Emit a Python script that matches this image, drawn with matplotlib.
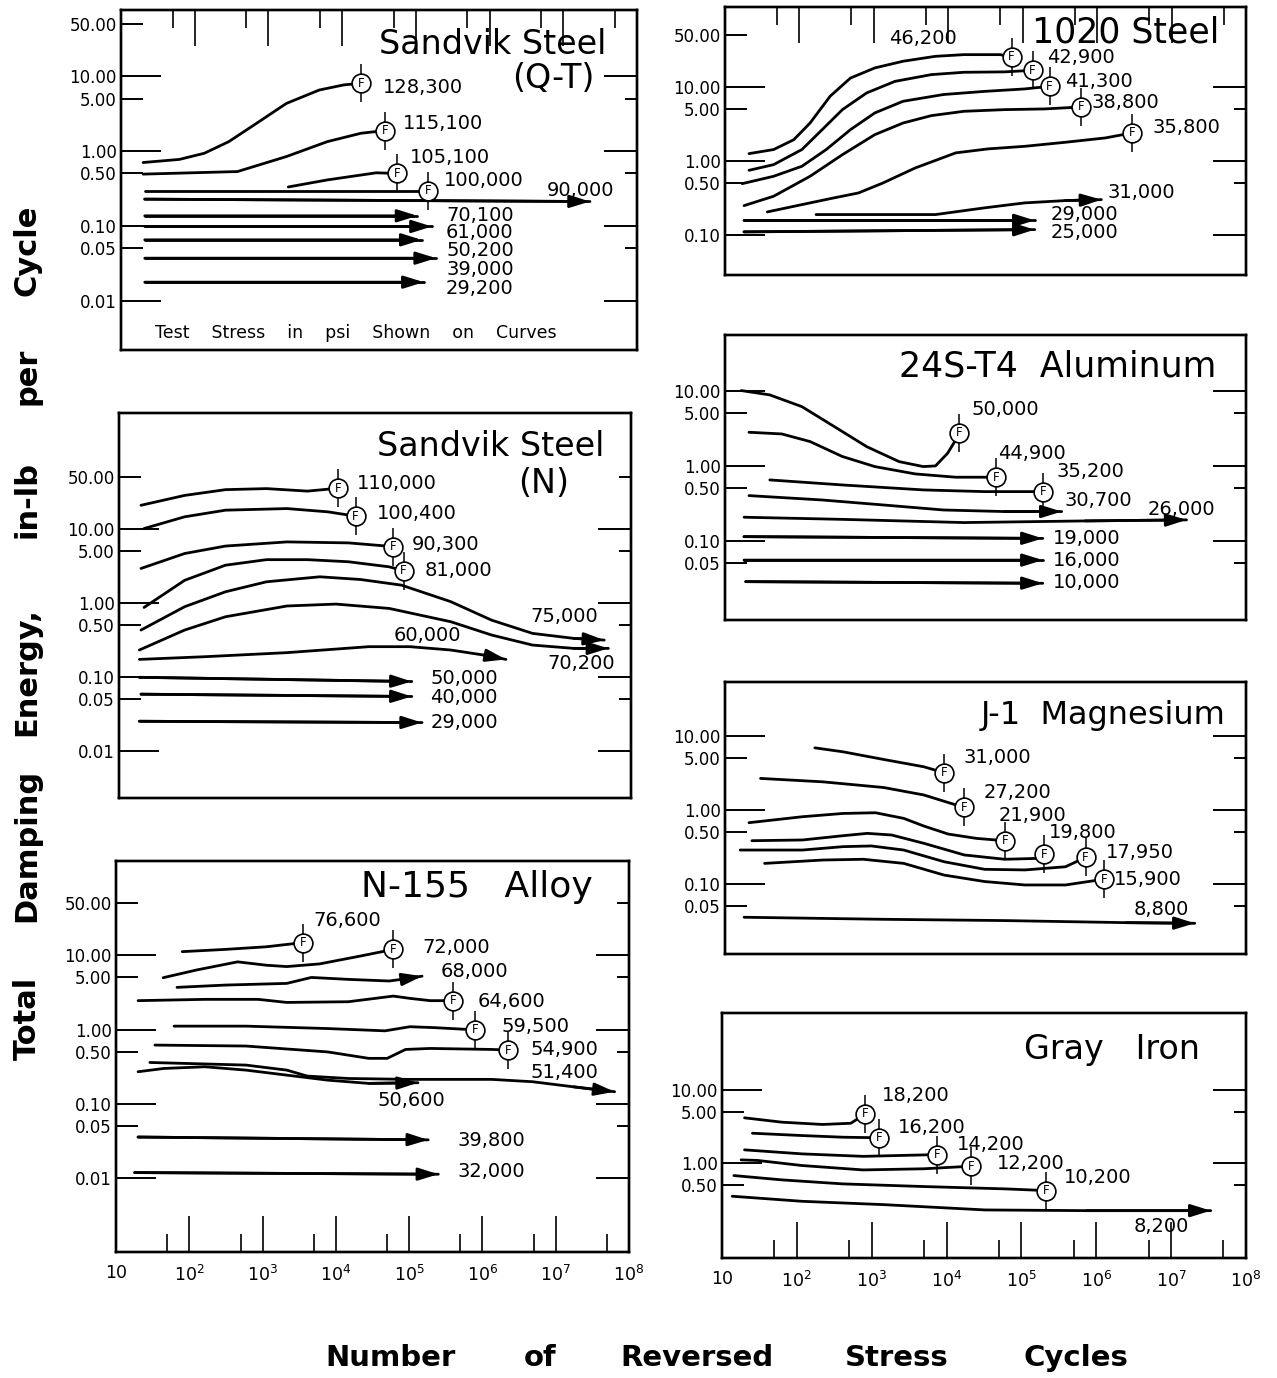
import matplotlib
matplotlib.use("Agg")
import matplotlib.pyplot as plt
from matplotlib.ticker import NullFormatter

# ---------------- data ----------------
# Sandvik Steel (Q-T)
qt_stress = ["128,300", "115,100", "105,100", "100,000", "90,000",
             "70,100", "61,000", "50,200", "39,000", "29,200"]
qt_x = [[20, 62, 135, 290, 630, 1750, 4900, 10500, 18000],
        [20, 380, 1750, 6300, 18000, 38000],
        [1860, 6300, 29000, 56000],
        [21, 146000],
        [21, 23e6],
        [21, 105000],
        [21, 165000],
        [21, 120000],
        [21, 188000],
        [21, 128000]]
qt_y = [[0.70, 0.77, 0.93, 1.33, 2.2, 4.3, 6.5, 7.6, 8.0],
        [0.49, 0.53, 0.84, 1.33, 1.72, 1.87],
        [0.33, 0.41, 0.51, 0.50],
        [0.296, 0.296],
        [0.227, 0.211],
        [0.136, 0.136],
        [0.098, 0.098],
        [0.065, 0.065],
        [0.037, 0.037],
        [0.0177, 0.0177]]
qt_end = ["F", "F", "F", "F", ">", ">", ">", ">", ">", ">"]

# Sandvik Steel (N)
sn_stress = ["110,000", "100,400", "90,300", "81,000", "75,000",
             "70,200", "60,000", "50,000", "40,000", "29,000"]
sn_x = [[20, 79, 286, 1040, 3770, 9900],
        [22, 79, 286, 1980, 7180, 17200],
        [20, 79, 286, 1980, 13700, 56400],
        [22, 79, 286, 1040, 3770, 13700, 49500, 78000],
        [20, 79, 286, 1040, 5550, 20100, 72900, 343000, 1.24e6, 4.5e6, 16.4e6, 43e6],
        [19, 79, 286, 1980, 9270, 49500, 343000, 1.24e6, 4.5e6, 16.4e6, 49e6],
        [19, 150, 1980, 26000, 94600, 343000, 961000, 1.95e6],
        [19, 100700],
        [20, 100700],
        [19, 139000]]
sn_y = [[20.6, 28, 33.5, 34.6, 32, 35],
        [10, 14.4, 17.7, 18.6, 16.8, 14.7],
        [2.89, 4.6, 5.8, 6.6, 6.4, 5.7],
        [0.86, 2.0, 3.2, 3.8, 3.8, 3.56, 3.04, 2.69],
        [0.426, 0.88, 1.4, 1.91, 2.23, 2.05, 1.72, 1.03, 0.58, 0.384, 0.329, 0.312],
        [0.229, 0.426, 0.644, 0.90, 0.955, 0.834, 0.552, 0.365, 0.267, 0.241, 0.241],
        [0.171, 0.186, 0.211, 0.254, 0.254, 0.229, 0.196, 0.171],
        [0.098, 0.086],
        [0.058, 0.054],
        [0.025, 0.024]]
sn_end = ["F", "F", "F", "F", ">", ">", ">", ">", ">", ">"]

# N-155 Alloy
na_stress = ["76,600", "72,000", "68,000", "64,600", "59,500",
             "54,900", "51,400", "50,600", "39,800", "32,000"]
na_x = [[80, 310, 1120, 3600],
        [44, 126, 457, 1120, 2140, 6000, 21700, 60800],
        [68, 310, 2140, 4630, 14800, 53500, 78700, 150000],
        [20, 163, 870, 2140, 14800, 60800, 102000, 194000, 393000],
        [62, 592, 7760, 47000, 102000, 220000, 542000, 798000],
        [34, 592, 7760, 28100, 50100, 89500, 194000, 1.34e6, 2.23e6],
        [29, 592, 2140, 4070, 14800, 102000, 1.34e6, 4.84e6, 17.5e6, 63.6e6],
        [20, 45, 163, 592, 2140, 7760, 28100, 132000],
        [20, 182000],
        [18, 250000]]
na_y = [[11.1, 11.9, 12.9, 14.7],
        [4.96, 6.3, 8.1, 7.3, 7.0, 7.6, 9.7, 11.9],
        [3.68, 3.95, 4.16, 5.0, 4.71, 4.48, 4.71, 5.2],
        [2.44, 2.54, 2.54, 2.31, 2.36, 2.81, 2.62, 2.44, 2.44],
        [1.11, 1.11, 1.03, 0.96, 1.09, 1.06, 1.01, 1.0],
        [0.618, 0.60, 0.50, 0.41, 0.41, 0.54, 0.557, 0.54, 0.53],
        [0.361, 0.333, 0.285, 0.237, 0.22, 0.214, 0.214, 0.199, 0.17, 0.146],
        [0.271, 0.30, 0.316, 0.285, 0.244, 0.209, 0.189, 0.193],
        [0.036, 0.033],
        [0.012, 0.0114]]
na_end = ["F", "F", ">", "F", "F", "F", ">", ">", ">", ">"]

# 1020 Steel
st_stress = ["46,200", "42,900", "41,300", "38,800", "35,800",
             "31,000", "29,000", "25,000"]
st_x = [[21, 45, 84, 139, 259, 485, 1030, 2470, 6730, 16200, 49900, 70800],
        [21, 45, 108, 202, 378, 800, 1920, 5930, 16200, 56500, 136000],
        [17, 45, 108, 229, 485, 1030, 2470, 8630, 30200, 106000, 230000],
        [18, 45, 139, 378, 1030, 2470, 5930, 16200, 56500, 198000, 610000],
        [37, 108, 259, 622, 1320, 3600, 12600, 34300, 106000, 370000, 1.29e6, 2.92e6],
        [167, 6730, 30200, 106000, 370000, 1.14e6],
        [18, 145000],
        [18, 145000]]
st_y = [[1.25, 1.42, 1.93, 3.25, 7.5, 13.2, 18.1, 22.3, 26, 27.4, 27.4, 25.5],
        [0.743, 0.887, 1.42, 2.64, 4.93, 8.3, 11.9, 14.7, 15.8, 16, 16.8],
        [0.49, 0.617, 0.843, 1.42, 2.64, 4.45, 6.4, 7.9, 8.7, 9.4, 10.2],
        [0.247, 0.331, 0.617, 1.21, 2.26, 3.25, 4.09, 4.68, 4.93, 5.04, 5.36],
        [0.203, 0.255, 0.307, 0.367, 0.5, 0.8, 1.28, 1.45, 1.57, 1.78, 2.04, 2.38],
        [0.187, 0.187, 0.23, 0.269, 0.289, 0.298],
        [0.156, 0.156],
        [0.109, 0.117]]
st_end = ["F", "F", "F", "F", "F", ">", ">", ">"]

# 24S-T4 Aluminum
al_stress = ["50,000", "44,900", "35,200", "30,700", "26,000",
             "19,000", "16,000", "10,000"]
al_x = [[16.5, 40, 108, 294, 800, 2180, 4610, 6730, 9790, 12600, 13900],
        [21, 58, 139, 378, 1030, 3600, 12600, 44000],
        [40, 378, 4610, 30200, 186000],
        [21, 202, 1320, 8630, 56500, 334000],
        [18, 378, 16200, 692000, 15.9e6],
        [18, 186000],
        [18, 186000],
        [19, 186000]]
al_y = [[10, 8.75, 6.1, 3.31, 1.79, 1.13, 0.97, 0.99, 1.46, 2.2, 2.75],
        [2.78, 2.64, 2.09, 1.32, 0.97, 0.774, 0.70, 0.70],
        [0.644, 0.552, 0.474, 0.45, 0.45],
        [0.398, 0.348, 0.299, 0.256, 0.244, 0.244],
        [0.205, 0.192, 0.174, 0.183, 0.189],
        [0.113, 0.107],
        [0.055, 0.055],
        [0.0284, 0.027]]
al_end = ["F", "F", "F", ">", ">", ">", ">", ">"]

# J-1 Magnesium
mg_stress = ["31,000", "27,200", "21,900", "19,800", "17,950", "15,900", "8,800"]
mg_x = [[161, 385, 1350, 4700, 8790],
        [30, 206, 1350, 4700, 12800, 16400],
        [21, 110, 385, 1050, 2520, 4700, 9960, 23900, 57400],
        [23, 110, 385, 817, 1730, 4700, 16400, 57400, 156000, 195000],
        [16, 110, 385, 925, 2520, 8790, 30700, 107000, 375000, 700000],
        [34, 206, 721, 2520, 8790, 30700, 107000, 375000, 1.23e6],
        [18, 1350, 57400, 2.44e6, 20.5e6]]
mg_y = [[6.95, 6.14, 4.84, 3.85, 3.2],
        [2.68, 2.41, 2.02, 1.6, 1.17, 1.09],
        [0.675, 0.813, 0.90, 0.92, 0.772, 0.608, 0.474, 0.414, 0.385],
        [0.385, 0.394, 0.45, 0.484, 0.46, 0.355, 0.247, 0.216, 0.222, 0.254],
        [0.288, 0.288, 0.32, 0.327, 0.288, 0.20, 0.158, 0.155, 0.171, 0.229],
        [0.19, 0.211, 0.216, 0.19, 0.132, 0.108, 0.097, 0.097, 0.116],
        [0.0355, 0.0333, 0.032, 0.030, 0.0294]]
mg_end = ["F", "F", "F", "F", "F", "F", ">"]

# Gray Iron
gi_stress = ["18,200", "16,200", "14,200", "12,200", "10,200", "8,200"]
gi_x = [[20, 63, 220, 527, 817],
        [25.5, 117, 410, 1260],
        [20, 117, 767, 7460],
        [18, 30, 117, 767, 5010, 21100],
        [14.4, 63, 410, 5010, 61100, 213000],
        [13.7, 117, 1430, 32700, 745000, 33.8e6]]
gi_y = [[4.15, 3.62, 3.37, 3.5, 4.7],
        [2.56, 2.38, 2.26, 2.22],
        [1.52, 1.34, 1.24, 1.31],
        [1.11, 1.09, 0.93, 0.81, 0.84, 0.91],
        [0.679, 0.593, 0.523, 0.481, 0.447, 0.424],
        [0.355, 0.303, 0.273, 0.231, 0.226, 0.226]]
gi_end = ["F", "F", "F", "F", "F", ">"]

x_ticklabels = ["10", "$10^2$", "$10^3$", "$10^4$", "$10^5$", "$10^6$", "$10^7$", "$10^8$"]
y_ticklabel = {50: "50.00", 10: "10.00", 5: "5.00", 1: "1.00", 0.5: "0.50",
               0.1: "0.10", 0.05: "0.05", 0.01: "0.01"}

# ---------------- layout (pixels in the 1277x1378 picture) ----------------
W, H = 1277, 1378
fig = plt.figure(figsize=(W / 100, H / 100), dpi=100)

# label positions as axes fractions (left edge, vertical centre)
qt_lab = [(0.507, 0.773), (0.547, 0.665), (0.559, 0.567), (0.626, 0.50), (0.825, 0.469),
          (0.63, 0.397), (0.63, 0.345), (0.63, 0.292), (0.63, 0.237), (0.63, 0.181)]
sn_lab = [(0.464, 0.817), (0.504, 0.739), (0.572, 0.659), (0.596, 0.59), (0.804, 0.471),
          (0.836, 0.35), (0.536, 0.421), (0.608, 0.311), (0.608, 0.262), (0.608, 0.196)]
na_lab = [(0.385, 0.849), (0.597, 0.779), (0.633, 0.717), (0.704, 0.64), (0.752, 0.578),
          (0.808, 0.519), (0.808, 0.459), (0.509, 0.388), (0.665, 0.286), (0.665, 0.205)]
st_lab = [(0.315, 0.881), (0.618, 0.81), (0.653, 0.723), (0.703, 0.642), (0.82, 0.549),
          (0.734, 0.308), (0.625, 0.225), (0.625, 0.157)]
al_lab = [(0.474, 0.739), (0.524, 0.585), (0.637, 0.52), (0.651, 0.421), (0.812, 0.386),
          (0.629, 0.287), (0.629, 0.208), (0.629, 0.132)]
mg_lab = [(0.458, 0.722), (0.497, 0.592), (0.525, 0.51), (0.622, 0.447), (0.731, 0.372),
          (0.746, 0.274), (0.785, 0.164)]
gi_lab = [(0.306, 0.663), (0.335, 0.534), (0.448, 0.462), (0.525, 0.384), (0.653, 0.33),
          (0.785, 0.128)]


def make_panel(box, ylim, yleft, yright, xmode):
    x0, y0, x1, y1 = box
    ax = fig.add_axes([x0 / W, 1 - y1 / H, (x1 - x0) / W, (y1 - y0) / H])
    tw = ax.twinx()
    for a in (ax, tw):
        a.set_xscale("log")
        a.set_yscale("log")
        a.set_xlim(10, 1e8)
        a.set_ylim(*ylim)
        for s in a.spines.values():
            s.set_linewidth(1.7)
    maj = [v for v in yleft if v in (10, 1, 0.1, 0.01)]
    mnr = [v for v in yleft if v in (50, 5, 0.5, 0.05)]
    ax.set_yticks(maj, [y_ticklabel[v] for v in maj])
    ax.set_yticks(mnr, [y_ticklabel[v] for v in mnr], minor=True)
    ax.tick_params(axis="y", which="both", direction="in", labelsize=12, width=1.4, pad=3)
    ax.tick_params(axis="y", which="major", length=29)
    ax.tick_params(axis="y", which="minor", length=16)
    tw.set_yticks([v for v in yright if v in (10, 1, 0.1, 0.01)])
    tw.set_yticks([v for v in yright if v in (50, 5, 0.5, 0.05)], minor=True)
    tw.tick_params(axis="y", which="both", direction="in", width=1.4, labelright=False)
    tw.tick_params(axis="y", which="major", length=24)
    tw.tick_params(axis="y", which="minor", length=9)

    if xmode == "none":
        ax.set_xticks([])
        ax.set_xticks([], minor=True)
    else:
        ax.set_xticks([10 ** k for k in range(1, 9)])
        ax.set_xticks([5 * 10 ** k for k in range(1, 8)], minor=True)
        ax.xaxis.set_minor_formatter(NullFormatter())
        ax.tick_params(axis="x", which="both", direction="in", width=1.2)
        ax.tick_params(axis="x", which="major", length=26)
        ax.tick_params(axis="x", which="minor", length=13)
        if xmode == "top":
            ax.tick_params(axis="x", which="both", bottom=False, top=True,
                           labelbottom=False)
        else:
            ax.set_xticklabels(x_ticklabels)
            ax.tick_params(axis="x", which="major", labelsize=12.5, pad=9)
    return ax


def draw_curves(ax, xs, ys, ends, stress, labs):
    for x, y, e, s, (fx, fy) in zip(xs, ys, ends, stress, labs):
        ax.plot(x, y, color="k", lw=2.0, solid_capstyle="round", zorder=3)
        if e == "F":
            ax.plot(x[-1], y[-1], marker="|", ms=27, mew=1.1, color="k", zorder=4)
            ax.plot(x[-1], y[-1], marker="o", ms=13.5, mfc="white", mec="k",
                    mew=1.2, zorder=5)
            ax.text(x[-1], y[-1], "F", fontsize=8.5, ha="center", va="center", zorder=6)
        else:
            ax.annotate("", xy=(x[-1], y[-1]), xytext=(x[-2], y[-2]),
                        arrowprops=dict(arrowstyle="-|>,head_length=0.8,head_width=0.25",
                                        lw=2.0, color="k", shrinkA=0, shrinkB=0,
                                        mutation_scale=15), zorder=4)
        ax.text(fx, fy, s, transform=ax.transAxes, fontsize=14, ha="left", va="center")


def title(ax, text, fx, fy, size=24):
    ax.text(fx, fy, text, transform=ax.transAxes, fontsize=size, ha="right", va="center")


all_y = [50, 10, 5, 1, 0.5, 0.1, 0.05, 0.01]

ax = make_panel((121, 10, 637, 350), (0.0022, 76), all_y, all_y[1:], "top")
draw_curves(ax, qt_x, qt_y, qt_end, qt_stress, qt_lab)
title(ax, "Sandvik Steel", 0.94, 0.90)
title(ax, "(Q-T)", 0.917, 0.80)
ax.text(0.455, 0.049, "Test    Stress    in    psi    Shown    on    Curves",
        transform=ax.transAxes, fontsize=12.5, ha="center", va="center")

ax = make_panel((119, 413, 631, 798), (0.0023, 363), all_y, all_y, "none")
draw_curves(ax, sn_x, sn_y, sn_end, sn_stress, sn_lab)
title(ax, "Sandvik Steel", 0.948, 0.912)
title(ax, "(N)", 0.88, 0.817)

ax = make_panel((116, 861, 629, 1252), (0.00103, 183), all_y, all_y, "bottom")
draw_curves(ax, na_x, na_y, na_end, na_stress, na_lab)
title(ax, "N-155   Alloy", 0.93, 0.934, 26)

ax = make_panel((725, 7, 1246, 275), (0.0284, 121), all_y[:6], all_y[1:6], "top")
draw_curves(ax, st_x, st_y, st_end, st_stress, st_lab)
title(ax, "1020 Steel", 0.948, 0.903, 25)

ax = make_panel((725, 335, 1246, 620), (0.00875, 55), all_y[1:7], all_y[1:7], "none")
draw_curves(ax, al_x, al_y, al_end, al_stress, al_lab)
title(ax, "24S-T4  Aluminum", 0.944, 0.889, 25)

ax = make_panel((725, 682, 1246, 954), (0.0113, 54), all_y[1:7], all_y[1:7], "none")
draw_curves(ax, mg_x, mg_y, mg_end, mg_stress, mg_lab)
title(ax, "J-1  Magnesium", 0.96, 0.878, 23)

ax = make_panel((722, 1013, 1246, 1258), (0.0512, 111), all_y[1:5], all_y[1:5], "bottom")
draw_curves(ax, gi_x, gi_y, gi_end, gi_stress, gi_lab)
title(ax, "Gray   Iron", 0.912, 0.85)

# axis titles, word by word as in the original lettering
ylab_words = ["Total", "Damping", "Energy,", "in-lb", "per", "Cycle"]
ylab_pos = [1018, 845, 672, 500, 376, 250]
for w, yp in zip(ylab_words, ylab_pos):
    fig.text(27 / W, 1 - yp / H, w, rotation=90, fontsize=22, fontweight="bold",
             ha="center", va="center")

xlab_words = ["Number", "of", "Reversed", "Stress", "Cycles"]
xlab_pos = [390, 540, 697, 897, 1076]
for w, xp in zip(xlab_words, xlab_pos):
    fig.text(xp / W, 1 - 1358 / H, w, fontsize=21, fontweight="bold",
             ha="center", va="center")

fig.savefig("out.png", dpi=100)
